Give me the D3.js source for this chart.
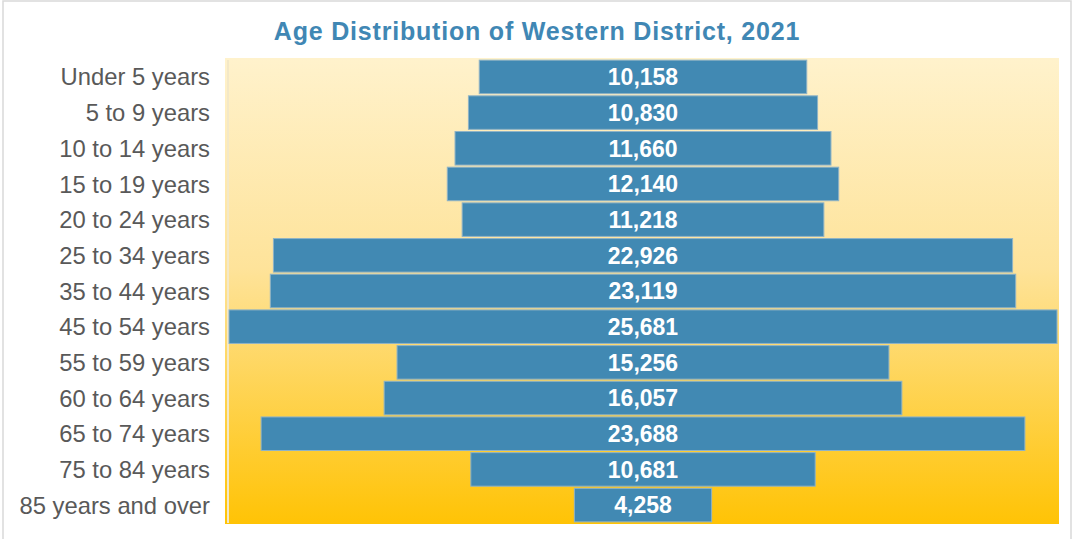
<!DOCTYPE html>
<html>
<head>
<meta charset="utf-8">
<script src="https://cdn.jsdelivr.net/npm/d3@7"></script>
<style>
body{margin:0;background:#fff;}
svg{display:block;font-family:"Liberation Sans",Arial,sans-serif;}
</style>
</head>
<body>
<svg width="1073" height="539"></svg>
<script>
var ageGroups = ["Under 5 years","5 to 9 years","10 to 14 years","15 to 19 years","20 to 24 years","25 to 34 years","35 to 44 years","45 to 54 years","55 to 59 years","60 to 64 years","65 to 74 years","75 to 84 years","85 years and over"];
var population = [10158,10830,11660,12140,11218,22926,23119,25681,15256,16057,23688,10681,4258];
var chartTitle = "Age Distribution of Western District, 2021";

var width = 1073, height = 539;
var plot = {left:225, right:1059, top:58, bottom:524};
var svg = d3.select("svg");

// outer frame
svg.append("rect")
    .attr("x",3).attr("y",1)
    .attr("width",1068).attr("height",560)
    .attr("fill","none")
    .attr("stroke","#d9d9d9")
    .attr("stroke-width",1.5);

var defs = svg.append("defs");
var grad = defs.append("linearGradient")
    .attr("id","bg").attr("x1",0).attr("y1",0).attr("x2",0).attr("y2",1);
grad.append("stop").attr("offset","0%").attr("stop-color","#fff2cc");
grad.append("stop").attr("offset","45%").attr("stop-color","#fee39a");
grad.append("stop").attr("offset","100%").attr("stop-color","#ffc305");

svg.append("rect")
    .attr("x",plot.left).attr("y",plot.top)
    .attr("width",plot.right-plot.left).attr("height",plot.bottom-plot.top)
    .attr("fill","url(#bg)");

// axis line
svg.append("line")
    .attr("x1",228).attr("x2",228)
    .attr("y1",plot.top+2).attr("y2",plot.bottom-1)
    .attr("stroke","#f3e8c8")
    .attr("stroke-width",2);

var maxV = d3.max(population);
var x = d3.scaleLinear().domain([-maxV/2, maxV/2]).range([229, 1057]);
var y = d3.scaleBand().domain(ageGroups).range([plot.top, plot.bottom]).padding(0.06);

var rows = svg.append("g").selectAll("g").data(ageGroups).join("g");

rows.append("rect")
    .attr("x",function(d,i){return x(-population[i]/2);})
    .attr("y",function(d){return y(d);})
    .attr("width",function(d,i){return x(population[i]/2)-x(-population[i]/2);})
    .attr("height",y.bandwidth())
    .attr("fill","#4189b3")
    .attr("stroke","#8fb3c6")
    .attr("stroke-width",1);

rows.append("text")
    .attr("x",x(0))
    .attr("y",function(d){return y(d)+y.bandwidth()/2;})
    .attr("dy","0.36em")
    .attr("text-anchor","middle")
    .attr("fill","#ffffff")
    .attr("font-weight","bold")
    .attr("font-size","23px")
    .text(function(d,i){return d3.format(",")(population[i]);});

rows.append("text")
    .attr("x",210)
    .attr("y",function(d){return y(d)+y.bandwidth()/2;})
    .attr("dy","0.36em")
    .attr("text-anchor","end")
    .attr("fill","#595959")
    .attr("font-size","23.8px")
    .text(function(d){return d;});

svg.append("text")
    .attr("x",537)
    .attr("y",40)
    .attr("text-anchor","middle")
    .attr("fill","#4087b4")
    .attr("font-weight","bold")
    .attr("font-size","25px")
    .attr("letter-spacing","0.8px")
    .text(chartTitle);
</script>
</body>
</html>
